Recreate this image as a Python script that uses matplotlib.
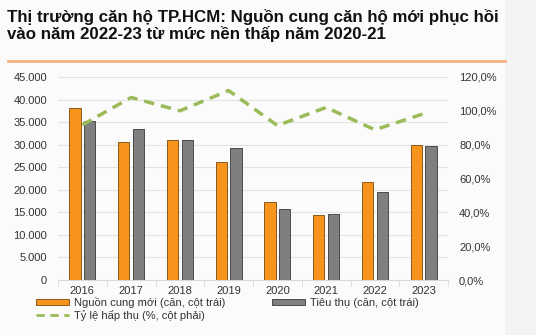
import matplotlib.pyplot as plt
import numpy as np
from matplotlib.patches import Patch, Rectangle
from matplotlib.lines import Line2D
from matplotlib.ticker import FuncFormatter

plt.rcParams['font.family'] = ['Liberation Sans', 'DejaVu Sans']

years = ['2016', '2017', '2018', '2019', '2020', '2021', '2022', '2023']
nguon_cung = [38200, 30700, 31000, 26200, 17200, 14300, 21700, 29900]
tieu_thu = [35200, 33400, 31000, 29300, 15700, 14600, 19400, 29700]
ty_le = [91.7, 107.9, 100.0, 112.0, 91.3, 102.0, 88.8, 98.3]

orange = '#F7941D'
gray = '#7F7F7F'
green = '#9BBB59'

fig = plt.figure(figsize=(5.36, 3.35), dpi=100, facecolor='#f3f3f3')
# vùng sáng hơn bên trái, nền xám bên phải
fig.patches.append(Rectangle((0, 0), 505 / 536, 1, transform=fig.transFigure,
                             facecolor='#fbfbfb', edgecolor='none', zorder=-1))
fig.add_artist(Line2D([8 / 536, 505 / 536], [1 - 61 / 335] * 2, color='#F4B183', lw=2))

fig.text(7 / 536, 1 - 9 / 335, 'Thị trường căn hộ TP.HCM: Nguồn cung căn hộ mới phục hồi\nvào năm 2022-23 từ mức nền thấp năm 2020-21',
         fontsize=12.2, fontweight='bold', va='top', ha='left', color='#111111', linespacing=1.05)

ax = fig.add_axes([58 / 536, 55 / 335, 390 / 536, 203 / 335])
ax.set_facecolor('none')
x = np.arange(len(years))
w = 0.23
ax.bar(x - w / 2 - 0.035, nguon_cung, w, color=orange, edgecolor='#8a5a1a', linewidth=0.7, zorder=3)
ax.bar(x + w / 2 + 0.035, tieu_thu, w, color=gray, edgecolor='#4a4a4a', linewidth=0.7, zorder=3)
ax.set_ylim(0, 45000)
ax.set_xlim(-0.5, len(years) - 0.5)
ax.set_yticks(np.arange(0, 45001, 5000))
ax.yaxis.set_major_formatter(FuncFormatter(lambda v, p: f'{int(v):,}'.replace(',', '.')))
ax.set_xticks(x)
ax.set_xticklabels(years)
ax.set_xticks(np.arange(-0.5, len(years), 1), minor=True)
ax.tick_params(axis='x', which='major', length=0, labelsize=8, colors='#333333', pad=4)
ax.tick_params(axis='x', which='minor', length=4, color='#d9d9d9')
ax.tick_params(axis='y', length=0, labelsize=8, colors='#333333', pad=8)
ax.grid(axis='y', color='#e3e3e3', lw=0.8, zorder=0)
for s in ['top', 'right', 'left']:
    ax.spines[s].set_visible(False)
ax.spines['bottom'].set_color('#d9d9d9')

ax2 = ax.twinx()
ax2.plot(x, ty_le, color=green, lw=2.5, ls=(0, (3, 2)), zorder=4)
ax2.set_ylim(0, 120)
ax2.set_yticks(np.arange(0, 121, 20))
ax2.yaxis.set_major_formatter(FuncFormatter(lambda v, p: f'{v:.1f}%'.replace('.', ',')))
ax2.tick_params(axis='y', length=0, labelsize=8, colors='#333333', pad=8)
for s in ['top', 'right', 'left', 'bottom']:
    ax2.spines[s].set_visible(False)

handles = [Patch(facecolor=orange, edgecolor='#8a5a1a', lw=0.7),
           Line2D([0], [0], color=green, lw=2, ls=(0, (3, 2))),
           Patch(facecolor=gray, edgecolor='#4a4a4a', lw=0.7)]
labels = ['Nguồn cung mới (căn, cột trái)', 'Tỷ lệ hấp thụ (%, cột phải)', 'Tiêu thụ (căn, cột trái)']
fig.legend(handles, labels, ncol=2, loc='upper left', bbox_to_anchor=(36 / 536, 1 - 297 / 335),
           frameon=False, fontsize=8, handlelength=3.0, handleheight=0.5, handletextpad=0.4,
           columnspacing=4.2, labelspacing=0.15, labelcolor='#333333', borderaxespad=0, borderpad=0)

fig.savefig('out.png', dpi=100, facecolor=fig.get_facecolor())
